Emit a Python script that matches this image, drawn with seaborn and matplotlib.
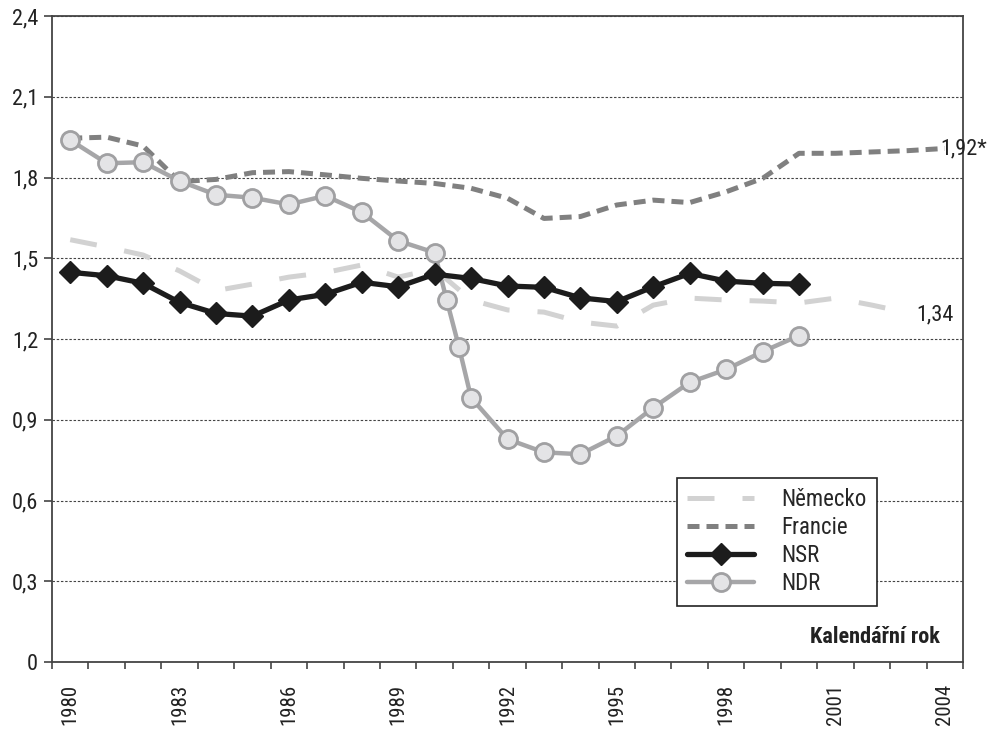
import matplotlib
matplotlib.use('Agg')
import matplotlib.pyplot as plt
from matplotlib.ticker import FuncFormatter
import seaborn as sns

# Data (total fertility rate)
years = list(range(1980, 2005))
nemecko_years = list(range(1980, 2004))
nemecko = [1.569, 1.542, 1.512, 1.453, 1.38, 1.404, 1.43, 1.447, 1.475, 1.43,
           1.46, 1.345, 1.308, 1.30, 1.263, 1.248, 1.326, 1.352, 1.345, 1.341,
           1.334, 1.352, 1.326, 1.297]
francie_years = list(range(1980, 2005))
francie = [1.946, 1.95, 1.917, 1.785, 1.793, 1.818, 1.822, 1.81, 1.797, 1.787,
           1.778, 1.76, 1.723, 1.648, 1.655, 1.698, 1.716, 1.707, 1.747, 1.797,
           1.89, 1.89, 1.895, 1.90, 1.908]
nsr_years = list(range(1980, 2001))
nsr = [1.448, 1.435, 1.407, 1.336, 1.295, 1.285, 1.345, 1.366, 1.411, 1.394,
       1.441, 1.425, 1.397, 1.392, 1.353, 1.339, 1.394, 1.444, 1.415, 1.407,
       1.404]
ndr_years = [1980, 1981, 1982, 1983, 1984, 1985, 1986, 1987, 1988, 1989, 1990,
             1990.33, 1990.67, 1991, 1992, 1993, 1994, 1995, 1996, 1997, 1998,
             1999, 2000]
ndr = [1.939, 1.853, 1.857, 1.787, 1.736, 1.725, 1.70, 1.732, 1.671, 1.565,
       1.521, 1.345, 1.169, 0.982, 0.828, 0.779, 0.772, 0.84, 0.945, 1.039,
       1.087, 1.153, 1.213]
label_years = list(range(1980, 2005, 3))
y_ticks = [0, 0.3, 0.6, 0.9, 1.2, 1.5, 1.8, 2.1, 2.4]

sns.set_style('white')
plt.rcParams['font.family'] = ['Roboto Condensed', 'Liberation Sans Narrow',
                               'Liberation Sans', 'DejaVu Sans']

fig = plt.figure(figsize=(9.93, 7.29), dpi=100)
ax = fig.add_axes([0.0524, 0.0919, 0.9174, 0.8861])

sns.lineplot(x=nemecko_years, y=nemecko, ax=ax, color='#d2d2d2', lw=3.6,
             linestyle=(0, (5.4, 5.6)), label='Německo', zorder=4)
sns.lineplot(x=francie_years, y=francie, ax=ax, color='#808080', lw=3.6,
             linestyle=(0, (2.4, 1.4)), label='Francie', zorder=2)
sns.lineplot(x=nsr_years, y=nsr, ax=ax, color='#1c1c1c', lw=3.8,
             marker='D', markersize=11, markerfacecolor='#1c1c1c',
             markeredgecolor='#1c1c1c', markeredgewidth=1,
             label='NSR', zorder=5)
sns.lineplot(x=ndr_years, y=ndr, ax=ax, color='#a6a6a8', lw=3.2,
             marker='o', markersize=13, markerfacecolor='#e4e4e6',
             markeredgecolor='#a0a0a2', markeredgewidth=2,
             label='NDR', zorder=3)

ax.set_xlim(1979.5, 2004.5)
ax.set_ylim(0, 2.4)

# year boundaries as ticks, labels centred in the year
ax.set_xticks([y - 0.5 for y in years] + [2004.5])
ax.set_xticklabels([])
ax.set_xticks(label_years, minor=True)
ax.set_xticklabels([str(y) for y in label_years], minor=True, rotation=90,
                   fontsize=15, color='#222222')
ax.tick_params(axis='x', which='major', direction='out', length=5,
               width=1.2, color='#444444', bottom=True)
ax.tick_params(axis='x', which='minor', length=0, pad=16)

ax.set_yticks(y_ticks)
ax.yaxis.set_major_formatter(FuncFormatter(
    lambda v, p: '0' if v == 0 else f'{v:.1f}'.replace('.', ',')))
ax.tick_params(axis='y', direction='out', length=6, width=1.2,
               color='#444444', left=True, labelsize=16, pad=4,
               labelcolor='#222222')

ax.yaxis.grid(True, linestyle=(0, (2.2, 1.6)), color='#444444', lw=0.8)
ax.xaxis.grid(False)
ax.set_axisbelow(True)
for s in ax.spines.values():
    s.set_color('#444444')
    s.set_linewidth(1.3)

ax.text(2003.87, 1.908, '1,92*', ha='left', va='center', fontsize=16,
        color='#222222')
ax.text(2003.23, 1.289, '1,34', ha='left', va='center', fontsize=16,
        color='#222222')
ax.text(2003.87, 0.094, 'Kalendářní rok', ha='right', va='center',
        fontsize=16, fontweight='bold', color='#222222')

leg = ax.legend(loc='upper left', bbox_to_anchor=(0.686, 0.285),
                borderaxespad=0, fontsize=16.5, handlelength=2.9,
                handletextpad=1.2, labelspacing=0.22, borderpad=0.45,
                fancybox=False, framealpha=1, edgecolor='#222222')
leg.get_frame().set_linewidth(1.2)

fig.savefig('out.png', dpi=100)
